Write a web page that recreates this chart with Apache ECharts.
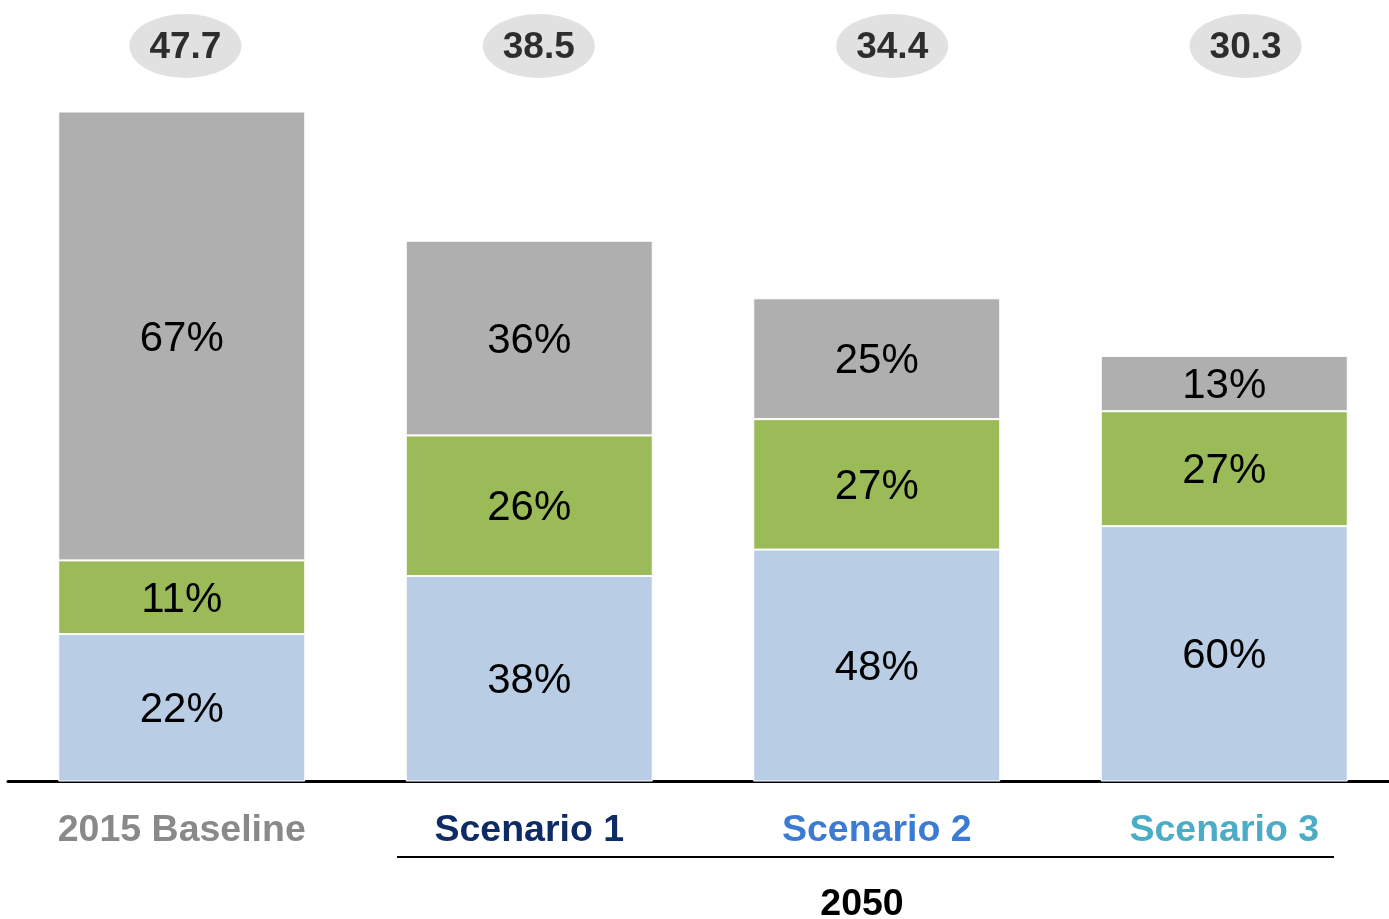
<!DOCTYPE html>
<html>
<head>
<meta charset="utf-8">
<script src="https://cdn.jsdelivr.net/npm/echarts@6/dist/echarts.min.js"></script>
<style>
  html, body { margin: 0; padding: 0; background: #fff; overflow: hidden; }
  #chart { width: 1430px; height: 919px; }
</style>
</head>
<body>
<div id="chart"></div>
<script>
// chart data
var categories = ["2015 Baseline", "Scenario 1", "Scenario 2", "Scenario 3"];
var totals = [47.7, 38.5, 34.4, 30.3];
var bottomShare = [22, 38, 48, 60];   // light blue
var middleShare = [11, 26, 27, 27];   // green
var topShare = [67, 36, 25, 13];      // grey
var groupLabel = "2050";

var labelColors = ["#898989", "#0e2b66", "#3b7bd4", "#4bacc6"];
var font = "'Liberation Sans', Arial, sans-serif";

function segment(shares) {
  return shares.map(function (p, i) {
    return { value: totals[i] * p / 100, share: p };
  });
}

function barSeries(name, shares, color) {
  return {
    name: name,
    type: "bar",
    stack: "total",
    barWidth: 247,
    xAxisIndex: 0,
    yAxisIndex: 0,
    data: segment(shares),
    itemStyle: { color: color, borderColor: "#ffffff", borderWidth: 1 },
    label: {
      show: true,
      position: "inside",
      offset: [0, 3],
      color: "#000",
      fontFamily: font,
      fontSize: 42,
      formatter: function (p) { return p.data.share + "%"; }
    },
    emphasis: { disabled: true }
  };
}

var chart = echarts.init(document.getElementById("chart"));
var yMax = 781.5 / (670 / 47.7);

chart.setOption({
  backgroundColor: "#ffffff",
  animation: false,
  grid: [
    { left: 8, top: 0, width: 1390, bottom: 137.5 },
    { left: 8.7, top: 14, width: 1413.6, height: 64 }
  ],
  xAxis: [
    {
      type: "category",
      gridIndex: 0,
      data: categories,
      axisLine: { show: true, lineStyle: { color: "#000", width: 3 } },
      axisTick: { show: false },
      axisLabel: {
        margin: 30,
        fontFamily: font,
        fontSize: 37.5,
        fontWeight: "bold",
        color: function (v, i) { return labelColors[i]; }
      }
    },
    { type: "category", gridIndex: 1, data: categories, show: false }
  ],
  yAxis: [
    { type: "value", gridIndex: 0, min: 0, max: yMax, show: false },
    { type: "value", gridIndex: 1, min: 0, max: 1, show: false }
  ],
  series: [
    barSeries("bottom", bottomShare, "#b9cde5"),
    barSeries("middle", middleShare, "#9bbb59"),
    barSeries("top", topShare, "#afafaf"),
    {
      name: "total",
      type: "scatter",
      xAxisIndex: 1,
      yAxisIndex: 1,
      symbol: "circle",
      symbolSize: [112, 64],
      itemStyle: { color: "#d9d9d9" },
      data: totals.map(function (t, i) { return [i, 0.5]; }),
      label: {
        show: true,
        position: "inside",
        offset: [0, 2],
        color: "#000",
        fontFamily: font,
        fontSize: 37,
        fontWeight: "bold",
        formatter: function (p) { return totals[p.dataIndex].toFixed(1); }
      },
      emphasis: { disabled: true }
    }
  ],
  graphic: [
    {
      type: "line",
      shape: { x1: 397, y1: 857, x2: 1334, y2: 857 },
      style: { stroke: "#000", lineWidth: 2 }
    },
    {
      type: "line",
      shape: { x1: 1388, y1: 779, x2: 1430, y2: 779 },
      style: { stroke: "#fff", lineWidth: 8 }
    },
    {
      type: "text",
      x: 862,
      y: 905,
      style: {
        text: groupLabel,
        fontFamily: font,
        fontSize: 37.5,
        fontWeight: "bold",
        fill: "#000",
        align: "center",
        verticalAlign: "middle"
      }
    }
  ]
});
</script>
</body>
</html>
